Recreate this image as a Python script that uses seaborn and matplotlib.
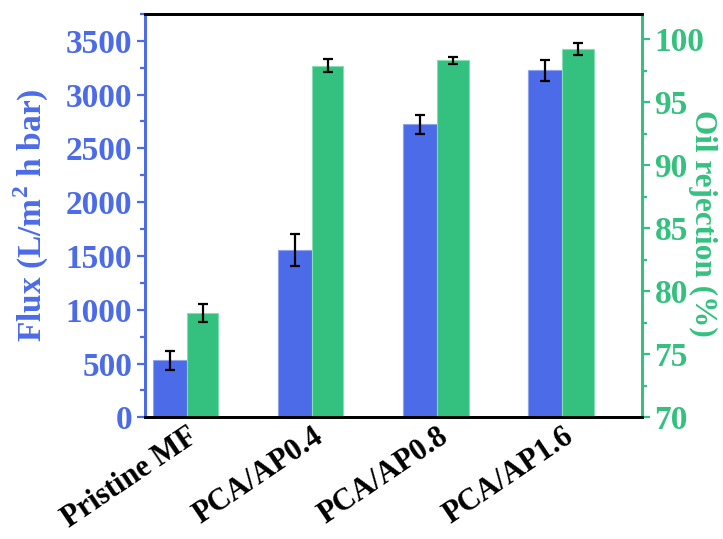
import numpy as np
import pandas as pd
import matplotlib
matplotlib.use("Agg")
import matplotlib.pyplot as plt
import seaborn as sns
from matplotlib.ticker import MultipleLocator

categories = ["Pristine MF", "PCA/AP0.4", "PCA/AP0.8", "PCA/AP1.6"]
flux = [531, 1555, 2722, 3224]
flux_err = [89, 150, 88, 97]
rejection = [78.3, 97.9, 98.3, 99.2]
rejection_err = [0.7, 0.5, 0.3, 0.5]

BLUE = "#4B6BE8"
GREEN = "#34C17F"
FS = 24

sns.set_theme(style="white")
plt.rcParams["font.family"] = ["Liberation Serif", "DejaVu Serif"]
plt.rcParams["font.weight"] = "bold"
plt.rcParams["mathtext.fontset"] = "custom"
plt.rcParams["mathtext.rm"] = "Liberation Serif:bold"
plt.rcParams["mathtext.bf"] = "Liberation Serif:bold"

fig = plt.figure(figsize=(7.23, 5.39), dpi=100)
ax1 = fig.add_axes([0.2, 0.2256, 0.688, 0.7488])
ax2 = ax1.twinx()

x = np.arange(len(categories))
bw_flux = 0.275
bw_rej = 0.25
xf = x - bw_flux / 2
xr = x + bw_rej / 2

df_f = pd.DataFrame({"pos": xf, "val": flux})
df_r = pd.DataFrame({"pos": xr, "val": rejection})

sns.barplot(data=df_f, x="pos", y="val", native_scale=True, width=bw_flux,
            color=BLUE, saturation=1, ax=ax1, errorbar=None,
            edgecolor="#8FA3F0", linewidth=0.8)
sns.barplot(data=df_r, x="pos", y="val", native_scale=True, width=bw_rej,
            color=GREEN, saturation=1, ax=ax2, errorbar=None,
            edgecolor="#86DDB2", linewidth=0.8)

ek = dict(fmt="none", ecolor="black", elinewidth=1.6, capsize=3.8, capthick=1.6, zorder=5)
ax1.errorbar(xf, flux, yerr=flux_err, **ek)
ax2.errorbar(xr, rejection, yerr=rejection_err, **ek)

ax1.set_xlim(-0.339, 3.636)
ax1.set_ylim(0, 3750)
ax2.set_ylim(70, 102)

ax1.set_xticks(x)
ax1.set_xticklabels(categories, rotation=34, ha="right", rotation_mode="anchor",
                    fontsize=22, fontweight="bold", color="black")
ax1.tick_params(axis="x", length=0, pad=3)

ax1.yaxis.set_major_locator(MultipleLocator(500))
ax1.yaxis.set_minor_locator(MultipleLocator(250))
ax2.yaxis.set_major_locator(MultipleLocator(5))
ax2.yaxis.set_minor_locator(MultipleLocator(2.5))

ax1.tick_params(axis="y", which="major", direction="out", length=6, width=1.6,
                color=BLUE, labelcolor=BLUE, labelsize=FS, left=True, pad=3)
ax1.tick_params(axis="y", which="minor", direction="out", length=3.5, width=1.6,
                color=BLUE, left=True)
ax2.tick_params(axis="y", which="major", direction="out", length=6, width=1.6,
                color=GREEN, labelcolor=GREEN, labelsize=FS, right=True, pad=3)
ax2.tick_params(axis="y", which="minor", direction="out", length=3.5, width=1.6,
                color=GREEN, right=True)
for lab in ax1.get_yticklabels() + ax2.get_yticklabels():
    lab.set_fontweight("bold")

ax1.set_ylabel("Flux (L/m$^2$ h bar)", color=BLUE, fontsize=FS, fontweight="bold")
ax1.yaxis.set_label_coords(-0.189, 0.5)
ax2.set_ylabel("Oil rejection (%)", color=GREEN, fontsize=22.5, fontweight="bold",
               rotation=270, va="bottom", ha="center")
ax2.yaxis.set_label_coords(1.092, 0.48)
ax1.set_xlabel("")
ax2.set_xlabel("")

for ax in (ax1, ax2):
    for s in ax.spines.values():
        s.set_linewidth(2)
        s.set_visible(True)
    ax.spines["top"].set_color("black")
    ax.spines["bottom"].set_color("black")
    ax.spines["left"].set_color(BLUE)
    ax.spines["right"].set_color(GREEN)
ax2.patch.set_visible(False)

fig.savefig("out.png", dpi=100)
